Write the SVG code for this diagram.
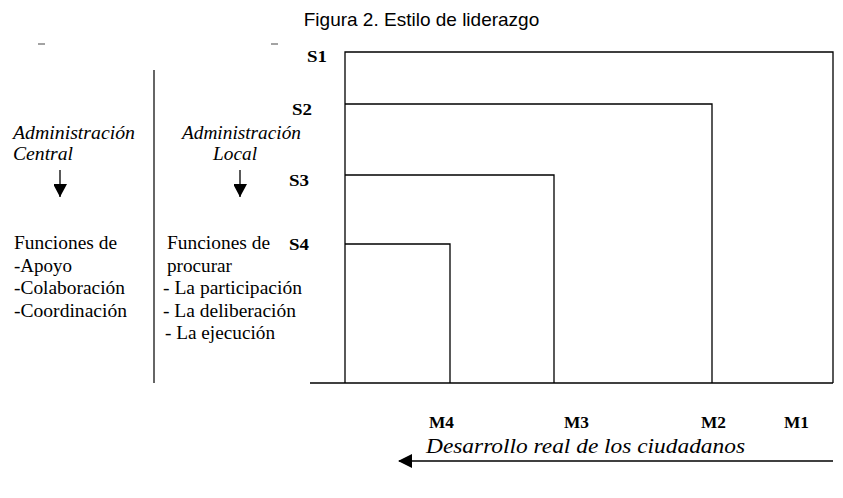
<svg xmlns="http://www.w3.org/2000/svg" width="843" height="498" viewBox="0 0 843 498">
<style>
.t{font-family:"Liberation Serif","Times New Roman",serif;font-size:18.5px;fill:#000}
.i{font-style:italic}
.b{font-weight:bold;font-size:17.5px}
.ln{stroke:#000;stroke-width:1.3;fill:none}
</style>
<defs>
<marker id="ah" markerWidth="14" markerHeight="13" refX="13" refY="7" orient="auto" markerUnits="userSpaceOnUse">
<path d="M0,0 L13,7 L0,14 Z" fill="#000"/>
</marker>
<marker id="ah2" markerWidth="14" markerHeight="14" refX="13" refY="7" orient="auto" markerUnits="userSpaceOnUse">
<path d="M0,0 L14,7 L0,14 Z" fill="#000"/>
</marker>
</defs>
<rect width="843" height="498" fill="#fff"/>
<g id="title">
<text x="421.5" y="26" text-anchor="middle" style="font-family:'Liberation Sans',Arial,sans-serif;font-size:19px">Figura 2. Estilo de liderazgo</text>
<line x1="38" y1="44" x2="45" y2="44" stroke="#666" stroke-width="1.2"/>
<line x1="271" y1="44" x2="278" y2="44" stroke="#666" stroke-width="1.2"/>
</g>
<g id="separator">
<line x1="154" y1="70" x2="154" y2="383" stroke="#333" stroke-width="1.5"/>
</g>
<g id="central">
<text class="t i" x="13" y="139" textLength="122" lengthAdjust="spacingAndGlyphs">Administración</text>
<text class="t i" x="13" y="160" textLength="60" lengthAdjust="spacingAndGlyphs">Central</text>
<text class="t" x="14" y="249" textLength="103" lengthAdjust="spacingAndGlyphs">Funciones de</text>
<text class="t" x="14" y="272" textLength="58" lengthAdjust="spacingAndGlyphs">-Apoyo</text>
<text class="t" x="14" y="294" textLength="111" lengthAdjust="spacingAndGlyphs">-Colaboración</text>
<text class="t" x="14" y="317" textLength="113" lengthAdjust="spacingAndGlyphs">-Coordinación</text>
</g>
<g id="local">
<text class="t i" x="182" y="139" textLength="119" lengthAdjust="spacingAndGlyphs">Administración</text>
<text class="t i" x="213" y="160" textLength="44" lengthAdjust="spacingAndGlyphs">Local</text>
<text class="t" x="167" y="249" textLength="103" lengthAdjust="spacingAndGlyphs">Funciones de</text>
<text class="t" x="167" y="272" textLength="65" lengthAdjust="spacingAndGlyphs">procurar</text>
<text class="t" x="163" y="294" textLength="139" lengthAdjust="spacingAndGlyphs">- La participación</text>
<text class="t" x="163" y="317" textLength="133" lengthAdjust="spacingAndGlyphs">- La deliberación</text>
<text class="t" x="165" y="339" textLength="110" lengthAdjust="spacingAndGlyphs">- La ejecución</text>
</g>
<g id="chart">
<path class="ln" d="M345,383 V52 H833 V383"/>
<path class="ln" d="M345,104 H712 V383"/>
<path class="ln" d="M345,175 H554 V383"/>
<path class="ln" d="M345,244 H450 V383"/>
<line class="ln" x1="310" y1="383" x2="833" y2="383"/>
<text class="t b" x="307" y="62" textLength="20" lengthAdjust="spacingAndGlyphs">S1</text>
<text class="t b" x="292" y="115" textLength="20" lengthAdjust="spacingAndGlyphs">S2</text>
<text class="t b" x="289" y="186" textLength="20" lengthAdjust="spacingAndGlyphs">S3</text>
<text class="t b" x="289" y="250" textLength="20" lengthAdjust="spacingAndGlyphs">S4</text>
<text class="t b" x="429" y="428" textLength="25" lengthAdjust="spacingAndGlyphs">M4</text>
<text class="t b" x="564" y="428" textLength="25" lengthAdjust="spacingAndGlyphs">M3</text>
<text class="t b" x="701" y="428" textLength="25" lengthAdjust="spacingAndGlyphs">M2</text>
<text class="t b" x="784" y="428" textLength="25" lengthAdjust="spacingAndGlyphs">M1</text>
<text class="t i" x="426" y="453" style="font-size:20px" textLength="319" lengthAdjust="spacingAndGlyphs">Desarrollo real de los ciudadanos</text>
</g>
<g id="connectors">
<line class="ln" x1="60" y1="170" x2="60" y2="197" marker-end="url(#ah)"/>
<line class="ln" x1="240" y1="170" x2="240" y2="197" marker-end="url(#ah)"/>
<line class="ln" x1="833" y1="461" x2="399" y2="461" marker-end="url(#ah2)"/>
</g>
</svg>
